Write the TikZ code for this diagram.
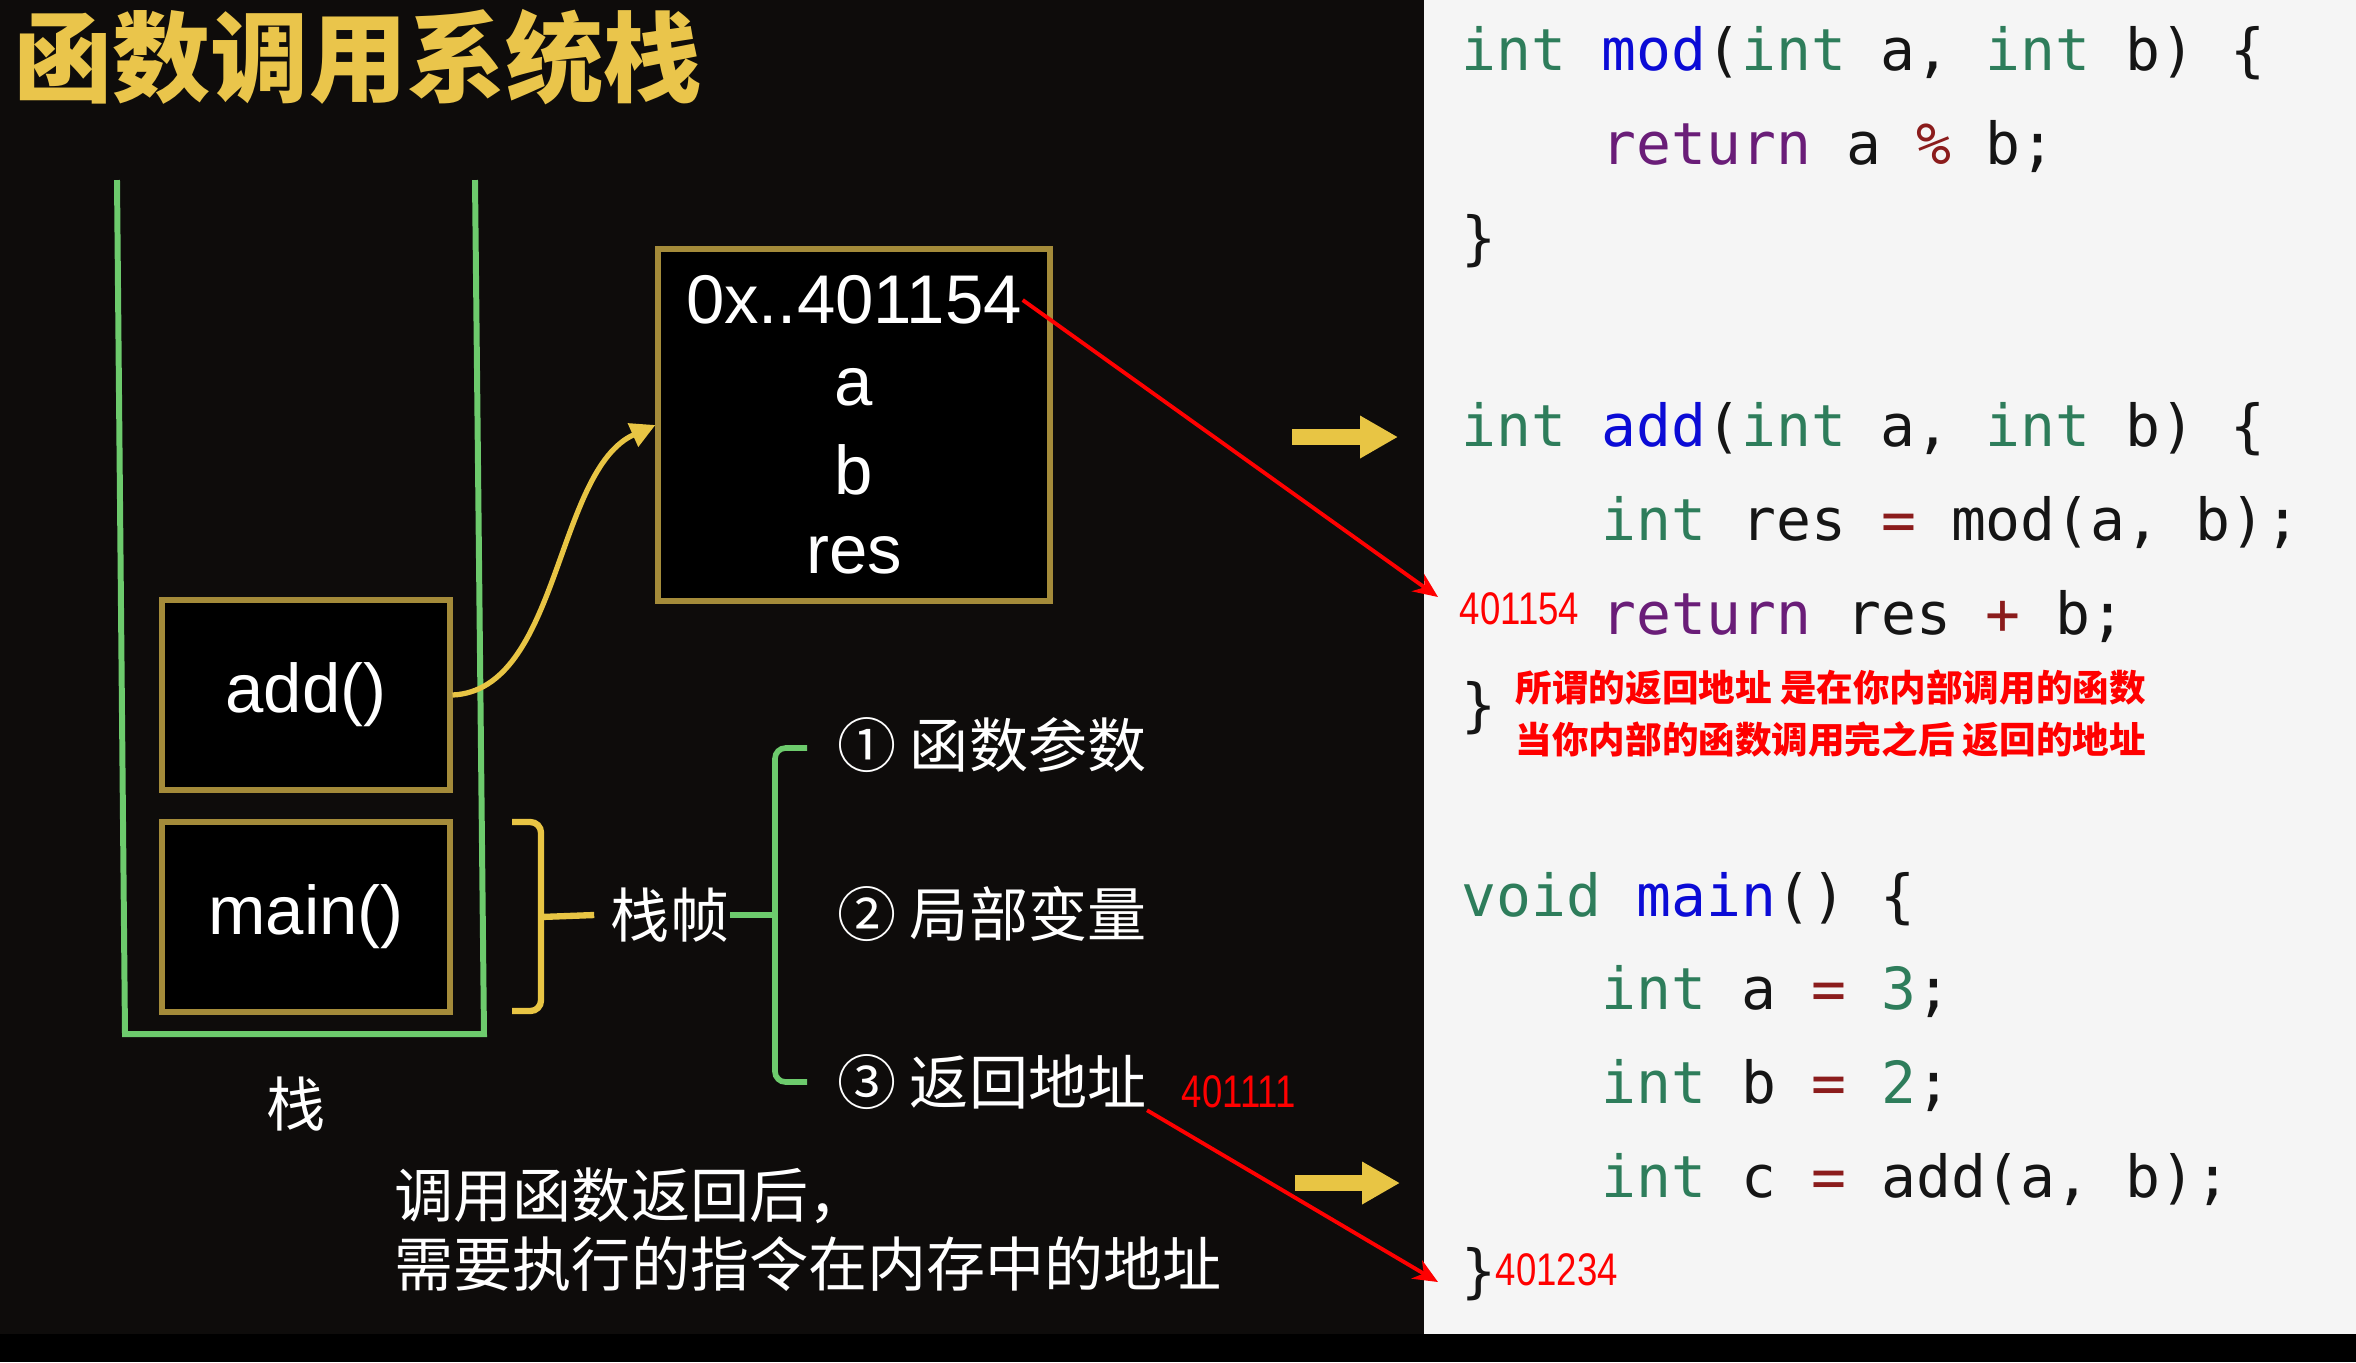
\documentclass[tikz,border=0pt]{standalone}
\usepackage{fontspec}
\setmainfont{Liberation Sans}
\newfontfamily\cjk{Noto Sans CJK SC}
\newfontfamily\codefont{DejaVu Sans Mono}
\newfontfamily\narrowfont{Liberation Sans}[FakeStretch=0.8]
\usetikzlibrary{arrows.meta,positioning}

\definecolor{bgdark}{HTML}{0E0C0B}
\definecolor{codebg}{HTML}{F5F5F5}
\definecolor{titleyellow}{HTML}{EAC54B}
\definecolor{gold}{HTML}{A48B3A}
\definecolor{arrowyellow}{HTML}{E8C544}
\definecolor{stackgreen}{HTML}{6DCB6D}
\definecolor{kwgreen}{HTML}{2E7D5B}
\definecolor{fnblue}{HTML}{0B0BD6}
\definecolor{retpurple}{HTML}{6A1D78}
\definecolor{opred}{HTML}{8B1C1C}
\definecolor{codeblack}{HTML}{151515}

\newcommand{\ckw}[1]{\textcolor{kwgreen}{#1}}
\newcommand{\cfn}[1]{\textcolor{fnblue}{#1}}
\newcommand{\cret}[1]{\textcolor{retpurple}{#1}}
\newcommand{\cop}[1]{\textcolor{opred}{#1}}

\begin{document}
\begin{tikzpicture}[x=0.01cm,y=-0.01cm,
  title/.style={font={\cjk\bfseries\fontsize{27.9}{30}\selectfont},text=titleyellow,inner sep=0pt,anchor=west},
  cjktext/.style={font={\cjk\fontsize{16.8}{19.6}\selectfont},text=white,inner sep=0pt},
  framebox/.style={draw=gold,line width=1.7pt,fill=black,text=white,font={\fontsize{19.6}{22}\selectfont}},
  latin/.style={text=white,font={\fontsize{19.6}{22}\selectfont},inner sep=0pt},
  code/.style={font={\codefont\fontsize{16.5}{18}\selectfont},text=codeblack,inner sep=0pt,anchor=base west},
  rednum/.style={font={\narrowfont\fontsize{13}{15}\selectfont},text=red,inner sep=0pt,anchor=west},
  rednote/.style={font={\cjk\bfseries\fontsize{10.4}{12}\selectfont},text=red,inner sep=0pt,anchor=west},
  stackline/.style={draw=stackgreen,line width=1.7pt},
  ybrace/.style={draw=arrowyellow,line width=1.8pt,rounded corners=3pt},
  gbrace/.style={draw=stackgreen,line width=1.6pt,rounded corners=3pt},
  curvearrow/.style={draw=arrowyellow,line width=1.5pt,-{Triangle[length=7pt,width=7pt]}},
  redarrow/.style={draw=red,line width=1.1pt,-{Stealth[length=7pt,width=6pt]}},
  blockarrow/.style={draw=arrowyellow,line width=4.3pt,-{Triangle[length=10.8pt,width=11.4pt]}}]

% backgrounds
\fill[bgdark] (0,0) rectangle (2356,1362);
\fill[codebg] (1424,0) rectangle (2356,1334);
\fill[black] (0,1334) rectangle (2356,1362);
\useasboundingbox (0,0) rectangle (2356,1362);

\node[title] (title) at (14,57) {函数调用系统栈};

% the stack
\coordinate (stl) at (117,180);
\coordinate (sbl) at (125,1034);
\coordinate (sbr) at (484,1034);
\coordinate (str) at (475,180);
\draw[stackline] (stl) -- (sbl) -- (sbr) -- (str);
\node[cjktext] (stacklabel) at (296,1104) {栈};

\node[framebox,minimum width=2.87cm,minimum height=1.89cm] (add) at (306,695) {add()};
\node[framebox,minimum width=2.87cm,minimum height=1.89cm] (main) at (306,917) {main()};

% frame contents
\node[framebox,minimum width=3.91cm,minimum height=3.52cm] (frame) at (854,425) {};
\node[latin] (retaddr) at (854,300) {0x..401154};
\node[latin] (va) at (854,387) {a};
\node[latin] (vb) at (854,470) {b};
\node[latin] (vres) at (854,555) {res};

\draw[curvearrow] (add.east) .. controls (560,690) and (555,470) .. (frame.west);

% stack frame parts
\node[cjktext] (stackframe) at (670,915) {栈帧};
\draw[ybrace] (512,822) -- (541,822) -- (541,1011) -- (512,1011);
\draw[ybrace] (541,917) -- ([xshift=-0.16cm]stackframe.west);
\draw[gbrace] (807,748) -- (775,748) -- (775,1082) -- (807,1082);
\draw[gbrace] (stackframe.east) -- (775,915);
\node[cjktext,anchor=west] (item1) at (837,745) {① 函数参数};
\node[cjktext,anchor=west] (item2) at (837,914) {② 局部变量};
\node[cjktext,anchor=west] (item3) at (837,1082) {③ 返回地址};
\node[rednum] (addr1) at (1181,1092) {401111};

\node[cjktext,anchor=west,align=left] (explain) at (394,1230)
  {调用函数返回后，\\需要执行的指令在内存中的地址};

% code
\node[code] (modsig) at (1461,70) {\ckw{int} \cfn{mod}(\ckw{int} a, \ckw{int} b) \{};
\node[code] (modret) at (1601,164) {\cret{return} a \cop{\%} b;};
\node[code] (modend) at (1461,258) {\}};
\node[code] (addsig) at (1461,446) {\ckw{int} \cfn{add}(\ckw{int} a, \ckw{int} b) \{};
\node[code] (addres) at (1601,540) {\ckw{int} res \cop{=} mod(a, b);};
\node[code] (addret) at (1601,634) {\cret{return} res \cop{+} b;};
\node[code] (addend) at (1461,725) {\}};
\node[code] (mainsig) at (1461,916) {\ckw{void} \cfn{main}() \{};
\node[code] (maina) at (1601,1009) {\ckw{int} a \cop{=} \ckw{3};};
\node[code] (mainb) at (1601,1103) {\ckw{int} b \cop{=} \ckw{2};};
\node[code] (mainc) at (1601,1197) {\ckw{int} c \cop{=} add(a, b);};
\node[code] (mainend) at (1461,1291) {\}};

\node[rednum] (addr2) at (1459,609) {401154};
\node[rednum] (addr3) at (1495,1270) {401234};
\node[rednote] (note1) at (1515,688) {所谓的返回地址 是在你内部调用的函数};
\node[rednote] (note2) at (1515,739) {当你内部的函数调用完之后 返回的地址};

% arrows
\coordinate (tipA) at (1438,597);
\coordinate (tipB) at (1438,1282);
\draw[redarrow] (retaddr.east) -- (tipA);
\draw[redarrow] (item3.south east) -- (tipB);

\coordinate (curA) at (1292,437);
\coordinate (curAend) at (1398,437);
\coordinate (curB) at (1295,1183);
\coordinate (curBend) at (1400,1183);
\draw[blockarrow] (curA) -- (curAend);
\draw[blockarrow] (curB) -- (curBend);
\end{tikzpicture}
\end{document}
